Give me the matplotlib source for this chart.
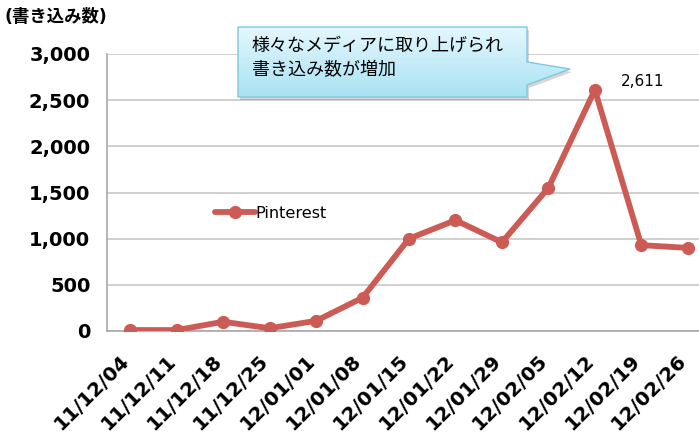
import matplotlib
matplotlib.use("Agg")
import matplotlib.pyplot as plt
import numpy as np
from matplotlib.patches import Polygon

plt.rcParams['font.family'] = ['DejaVu Sans', 'Noto Sans CJK JP']

dates = ["11/12/04", "11/12/11", "11/12/18", "11/12/25", "12/01/01", "12/01/08",
         "12/01/15", "12/01/22", "12/01/29", "12/02/05", "12/02/12", "12/02/19", "12/02/26"]
pinterest = [10, 10, 100, 30, 110, 360, 1000, 1200, 960, 1550, 2611, 930, 900]
yticks = [0, 500, 1000, 1500, 2000, 2500, 3000]
ylabel = "(書き込み数)"
callout = "様々なメディアに取り上げられ\n書き込み数が増加"
peak_label = "2,611"

W, H = 699, 434
fig = plt.figure(figsize=(W / 100, H / 100), dpi=100)

# axes: left 107px, right 711px, top 54px, bottom 331px
ax = fig.add_axes([107 / W, (H - 331) / H, (711 - 107) / W, (331 - 54) / H])
x = np.arange(len(dates))
color = "#cd5b55"
ax.plot(x, pinterest, color=color, lw=4.2, marker="o", ms=8.5, label="Pinterest",
        solid_capstyle="round", zorder=3)
ax.set_xlim(-0.5, len(dates) - 0.5)
ax.set_ylim(0, 3000)
ax.set_yticks(yticks)
ax.set_yticklabels([f"{v:,}" for v in yticks], fontsize=14, fontweight="bold")
ax.set_xticks(x)
ax.set_xticklabels(dates, rotation=45, ha="right", va="baseline",
                   rotation_mode="anchor", fontsize=14.3, fontweight="bold")
ax.tick_params(axis="x", length=0, pad=22)
ax.tick_params(axis="y", length=0, pad=12)
ax.grid(axis="y", color="#c8c8c8", lw=1.2)
ax.set_axisbelow(True)
for s in ["top", "right"]:
    ax.spines[s].set_visible(False)
for s in ["left", "bottom"]:
    ax.spines[s].set_color("#a8a8a8")
    ax.spines[s].set_linewidth(1.2)

leg = ax.legend(loc="center left", bbox_to_anchor=(0.168, 0.425), frameon=False,
                handlelength=2.5, handletextpad=0.0, borderaxespad=0,
                prop={"family": ["DejaVu Sans"], "size": 11.6})

ax.annotate(peak_label, xy=(10, 2611), xytext=(19, 6), textcoords="offset points",
            fontsize=11, ha="left", va="center", family=["DejaVu Sans"])

# overlay for callout in pixel coordinates
ov = fig.add_axes([0, 0, 1, 1], zorder=5)
ov.set_xlim(0, W)
ov.set_ylim(H, 0)
ov.axis("off")

fig.text(5 / W, 1 - 17 / H, ylabel, fontsize=12.5, fontweight="bold", va="center",
         ha="left", family=["DejaVu Sans", "Noto Sans CJK JP"])

verts = [(238, 27), (527, 27), (527, 62), (570, 69), (527, 85), (527, 97), (238, 97)]
shadow = Polygon([(vx + 2, vy + 3) for vx, vy in verts], closed=True,
                 facecolor="#000000", alpha=0.16, edgecolor="none")
ov.add_patch(shadow)
poly = Polygon(verts, closed=True, facecolor="none", edgecolor="#7fc8dc", lw=1.0)
ov.add_patch(poly)
grad = np.linspace(0, 1, 100).reshape(-1, 1)
c1 = np.array([0xe4, 0xf7, 0xfd]) / 255
c2 = np.array([0xa9, 0xe2, 0xf3]) / 255
img = c1[None, None, :] * (1 - grad[..., None]) + c2[None, None, :] * grad[..., None]
im = ov.imshow(img, extent=(238, 570, 97, 27), aspect="auto", zorder=1)
im.set_clip_path(poly)
poly.set_zorder(2)
ov.set_xlim(0, W)
ov.set_ylim(H, 0)
ov.text(252, 58, callout, fontsize=13, family=["Noto Sans CJK JP"], va="center",
        ha="left", linespacing=1.4, zorder=3)

fig.savefig("out.png", dpi=100)
